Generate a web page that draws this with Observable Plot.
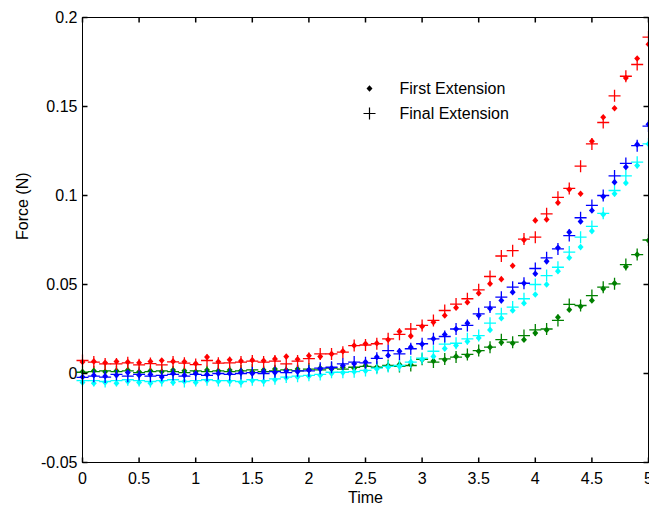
<!DOCTYPE html>
<html>
<head>
<meta charset="utf-8">
<script src="https://cdn.jsdelivr.net/npm/d3@7"></script>
<script src="https://cdn.jsdelivr.net/npm/@observablehq/plot@0.6"></script>
<style>
  html, body { margin: 0; padding: 0; background: #fff; }
  #chart { width: 649px; height: 508px; }
</style>
</head>
<body>
<div id="chart"></div>
<script>
// ---------- data ----------
const time = [0,0.1,0.2,0.3,0.4,0.5,0.6,0.7,0.8,0.9,1,1.1,1.2,1.3,1.4,1.5,1.6,1.7,1.8,1.9,2,2.1,2.2,2.3,2.4,2.5,2.6,2.7,2.8,2.9,3,3.1,3.2,3.3,3.4,3.5,3.6,3.7,3.8,3.9,4,4.1,4.2,4.3,4.4,4.5,4.6,4.7,4.8,4.9,5];

const redFirst = [0.0065,0.0068,0.0060,0.0067,0.0064,0.0060,0.0067,0.0073,0.0068,0.0066,
  0.0056,0.0092,0.0066,0.0077,0.0070,0.0075,0.0072,0.0082,0.0095,0.0080,
  0.0100,0.0095,0.0110,0.0125,0.0157,0.0167,0.0170,0.0190,0.0236,0.0210,
  0.0264,0.0288,0.0326,0.0370,0.0400,0.0451,0.0504,0.0530,0.0605,0.0750,
  0.0860,0.0865,0.0959,0.1034,0.1010,0.1305,0.1440,0.1490,0.1660,0.1770,
  0.1850];
const redFinal = [0.0073,0.0064,0.0054,0.0054,0.0060,0.0049,0.0056,0.0049,0.0065,0.0058,
  0.0050,0.0073,0.0058,0.0060,0.0064,0.0070,0.0064,0.0070,0.0054,0.0070,
  0.0084,0.0110,0.0110,0.0120,0.0157,0.0160,0.0167,0.0195,0.0220,0.0250,
  0.0270,0.0298,0.0354,0.0390,0.0420,0.0470,0.0545,0.0660,0.0690,0.0755,
  0.0766,0.0897,0.0990,0.1040,0.1165,0.1290,0.1410,0.1560,0.1670,0.1736,
  0.1890];
const blueFirst = [-0.0020,-0.0010,-0.0015,-0.0010,0.0005,-0.0010,-0.0005,-0.0020,0.0000,-0.0010,
  0.0000,-0.0005,0.0000,0.0000,0.0005,0.0000,0.0010,0.0005,0.0015,0.0010,
  0.0020,0.0025,0.0030,0.0045,0.0055,0.0064,0.0092,0.0101,0.0125,0.0148,
  0.0165,0.0195,0.0219,0.0250,0.0283,0.0326,0.0365,0.0410,0.0457,0.0507,
  0.0560,0.0630,0.0706,0.0794,0.0854,0.0916,0.0994,0.1075,0.1160,0.1287,
  0.1400];
const blueFinal = [-0.0022,-0.0015,-0.0020,-0.0005,-0.0015,-0.0005,-0.0015,-0.0010,-0.0005,-0.0015,
  -0.0005,-0.0010,0.0000,-0.0005,0.0000,0.0005,0.0000,0.0010,0.0005,0.0015,
  0.0015,0.0030,0.0035,0.0054,0.0064,0.0060,0.0085,0.0129,0.0110,0.0139,
  0.0167,0.0195,0.0208,0.0250,0.0270,0.0335,0.0373,0.0429,0.0485,0.0507,
  0.0590,0.0650,0.0700,0.0775,0.0875,0.0944,0.1000,0.1110,0.1180,0.1280,
  0.1390];
const cyanFirst = [-0.0050,-0.0055,-0.0050,-0.0055,-0.0045,-0.0050,-0.0055,-0.0045,-0.0050,-0.0045,
  -0.0050,-0.0040,-0.0045,-0.0045,-0.0050,-0.0040,-0.0045,-0.0035,-0.0025,-0.0020,
  -0.0015,-0.0010,0.0000,0.0005,0.0010,0.0015,0.0025,0.0035,0.0040,0.0065,
  0.0080,0.0096,0.0140,0.0157,0.0180,0.0200,0.0245,0.0310,0.0354,0.0395,
  0.0444,0.0500,0.0575,0.0650,0.0710,0.0800,0.0893,0.1010,0.1070,0.1168,
  0.1290];
const cyanFinal = [-0.0040,-0.0040,-0.0045,-0.0040,-0.0035,-0.0040,-0.0045,-0.0040,-0.0035,-0.0045,
  -0.0040,-0.0035,-0.0040,-0.0040,-0.0045,-0.0035,-0.0040,-0.0030,-0.0020,-0.0015,
  -0.0010,-0.0005,0.0007,0.0007,0.0010,0.0017,0.0030,0.0040,0.0045,0.0064,
  0.0086,0.0125,0.0165,0.0170,0.0195,0.0213,0.0283,0.0335,0.0373,0.0420,
  0.0500,0.0550,0.0597,0.0682,0.0766,0.0826,0.0900,0.1028,0.1110,0.1187,
  0.1290];
const greenFirst = [0.0010,0.0015,0.0010,0.0015,0.0020,0.0010,0.0015,0.0010,0.0020,0.0015,
  0.0010,0.0020,0.0015,0.0020,0.0015,0.0010,0.0020,0.0025,0.0020,0.0025,
  0.0020,0.0030,0.0025,0.0035,0.0030,0.0045,0.0036,0.0045,0.0050,0.0050,
  0.0077,0.0070,0.0077,0.0096,0.0100,0.0125,0.0148,0.0174,0.0170,0.0190,
  0.0227,0.0245,0.0316,0.0358,0.0376,0.0410,0.0476,0.0507,0.0600,0.0668,
  0.0747];
const greenFinal = [0.0007,0.0010,0.0015,0.0010,0.0015,0.0005,0.0010,0.0015,0.0010,0.0005,
  0.0015,0.0010,0.0015,0.0010,0.0015,0.0020,0.0010,0.0015,0.0020,0.0015,
  0.0025,0.0020,0.0030,0.0025,0.0035,0.0040,0.0035,0.0045,0.0040,0.0045,
  0.0080,0.0064,0.0082,0.0092,0.0107,0.0129,0.0148,0.0190,0.0176,0.0213,
  0.0245,0.0250,0.0298,0.0388,0.0382,0.0438,0.0485,0.0504,0.0612,0.0668,
  0.0750];

const seriesColors = {green: "#108010", cyan: "#20bcbc", blue: "#0a0aec", red: "#f4101a"};
const xTicks = [0, 0.5, 1, 1.5, 2, 2.5, 3, 3.5, 4, 4.5, 5];
const yTicks = [-0.05, 0, 0.05, 0.1, 0.15, 0.2];
const legendLabels = ["First Extension", "Final Extension"];
const xLabel = "Time";
const yLabel = "Force (N)";

// ---------- build rows ----------
const groups = [
  ["green", greenFirst, greenFinal],
  ["cyan", cyanFirst, cyanFinal],
  ["blue", blueFirst, blueFinal],
  ["red", redFirst, redFinal]
];
const firstRows = [], finalRows = [];
for (const [c, f, g] of groups) {
  time.forEach((t, i) => {
    firstRows.push({t, v: f[i], c});
    finalRows.push({t, v: g[i], c});
  });
}

// ---------- custom symbols ----------
const rad = s => Math.sqrt(s / Math.PI);
const diamondSym = {draw(ctx, s) { const r = rad(s); ctx.moveTo(0, -r); ctx.lineTo(r * 0.9, 0); ctx.lineTo(0, r); ctx.lineTo(-r * 0.9, 0); ctx.closePath(); }};
const plusSym = {draw(ctx, s) { const r = rad(s); ctx.moveTo(-r, 0); ctx.lineTo(r, 0); ctx.moveTo(0, -r); ctx.lineTo(0, r); }};
const tickUp = {draw(ctx, s) { const r = rad(s); ctx.moveTo(0, 0); ctx.lineTo(0, -r); }};
const tickDown = {draw(ctx, s) { const r = rad(s); ctx.moveTo(0, 0); ctx.lineTo(0, r); }};
const tickRight = {draw(ctx, s) { const r = rad(s); ctx.moveTo(0, 0); ctx.lineTo(r, 0); }};
const tickLeft = {draw(ctx, s) { const r = rad(s); ctx.moveTo(0, 0); ctx.lineTo(-r, 0); }};

const colorDomain = Object.keys(seriesColors);
const colorRange = colorDomain.map(k => seriesColors[k]);

const marks = [];
for (const [c] of groups) {
  marks.push(Plot.dot(firstRows.filter(d => d.c === c), {x: "t", y: "v", symbol: diamondSym, r: 3.3, fill: "c", stroke: "none"}));
  marks.push(Plot.dot(finalRows.filter(d => d.c === c), {x: "t", y: "v", symbol: plusSym, r: 6, stroke: "c", strokeWidth: 1.3, fill: "none"}));
}

marks.push(
  Plot.frame({stroke: "#000", strokeWidth: 1}),
  // inward ticks on all four sides
  Plot.dot(xTicks, {x: d => d, frameAnchor: "bottom", symbol: tickUp, r: 5, stroke: "#000", fill: "none"}),
  Plot.dot(xTicks, {x: d => d, frameAnchor: "top", symbol: tickDown, r: 5, stroke: "#000", fill: "none"}),
  Plot.dot(yTicks, {y: d => d, frameAnchor: "left", symbol: tickRight, r: 5, stroke: "#000", fill: "none"}),
  Plot.dot(yTicks, {y: d => d, frameAnchor: "right", symbol: tickLeft, r: 5, stroke: "#000", fill: "none"}),
  // tick labels
  Plot.text(xTicks, {x: d => d, frameAnchor: "bottom", lineAnchor: "middle", text: d => String(d), dy: 16, fill: "#000"}),
  Plot.text(yTicks, {y: d => d, frameAnchor: "left", lineAnchor: "middle", text: d => String(d), dx: -5, textAnchor: "end", fill: "#000"}),
  // axis titles
  Plot.text([xLabel], {frameAnchor: "bottom", lineAnchor: "middle", dy: 35, fill: "#000"}),
  Plot.text([yLabel], {frameAnchor: "left", lineAnchor: "middle", dx: -60, rotate: -90, fill: "#000"}),
  // legend
  Plot.dot([legendLabels[0]], {frameAnchor: "top-left", dx: 287, dy: 71, symbol: diamondSym, r: 3.3, fill: "#000", stroke: "none"}),
  Plot.dot([legendLabels[1]], {frameAnchor: "top-left", dx: 287, dy: 96, symbol: plusSym, r: 6, stroke: "#000", strokeWidth: 1.2, fill: "none"}),
  Plot.text([legendLabels[0]], {frameAnchor: "top-left", lineAnchor: "middle", dx: 317, dy: 71, textAnchor: "start", fill: "#000"}),
  Plot.text([legendLabels[1]], {frameAnchor: "top-left", lineAnchor: "middle", dx: 317, dy: 96, textAnchor: "start", fill: "#000"})
);

const chart = Plot.plot({
  width: 649,
  height: 508,
  marginLeft: 82,
  marginRight: 1,
  marginTop: 17,
  marginBottom: 46,
  x: {domain: [0, 5], axis: null},
  y: {domain: [-0.05, 0.2], axis: null},
  color: {domain: colorDomain, range: colorRange},
  style: {fontFamily: "'Liberation Sans', Arial, sans-serif", fontSize: "16px", color: "#000", background: "#fff", overflow: "visible"},
  marks
});
document.getElementById("chart").appendChild(chart);
</script>
</body>
</html>
